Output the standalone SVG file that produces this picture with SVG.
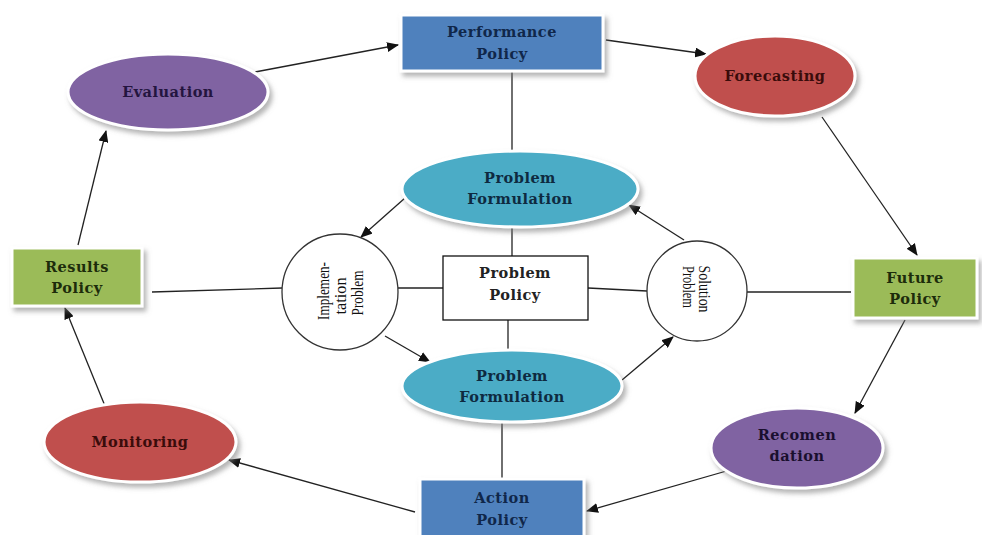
<svg xmlns="http://www.w3.org/2000/svg" width="982" height="535" viewBox="0 0 982 535">
<style>
  .lbl{font-family:"DejaVu Serif","Liberation Serif",serif;font-size:14.5px;font-weight:bold;letter-spacing:0.5px;text-anchor:middle;}
  .rot{font-family:"Liberation Serif",serif;font-size:16px;text-anchor:middle;fill:#111;}
  .conn line{stroke:#222;stroke-width:1.3;fill:none;}
  .arr{marker-end:url(#ah);}
  .shape{stroke:#fff;stroke-width:3;filter:url(#sh);}
</style>
<defs>
  <marker id="ah" markerWidth="12" markerHeight="10" refX="11" refY="5" orient="auto" markerUnits="userSpaceOnUse">
    <path d="M0,0 L12,5 L0,10 Z" fill="#111"/>
  </marker>
  <filter id="sh" x="-20%" y="-20%" width="140%" height="150%">
    <feDropShadow dx="3" dy="4" stdDeviation="2.5" flood-color="#777" flood-opacity="0.55"/>
  </filter>
</defs>
<rect width="982" height="535" fill="#fff"/>

<g id="connectors" class="conn">
  <line class="arr" x1="255" y1="72" x2="398" y2="45"/>
  <line class="arr" x1="606" y1="40" x2="706" y2="54"/>
  <line class="arr" x1="822" y1="117" x2="917" y2="255"/>
  <line class="arr" x1="905" y1="320" x2="855" y2="413"/>
  <line class="arr" x1="730" y1="470" x2="587" y2="511"/>
  <line class="arr" x1="415" y1="512" x2="229" y2="460"/>
  <line class="arr" x1="105" y1="406" x2="65" y2="308"/>
  <line class="arr" x1="78" y1="245" x2="106" y2="131"/>
  <line x1="512" y1="72" x2="512" y2="153"/>
  <line x1="152" y1="292" x2="282" y2="288"/>
  <line x1="398" y1="288" x2="443" y2="288"/>
  <line x1="588" y1="288" x2="647" y2="291"/>
  <line x1="747" y1="292" x2="851" y2="292"/>
  <line x1="512" y1="228" x2="512" y2="256"/>
  <line x1="508" y1="320" x2="508" y2="350"/>
  <line x1="502" y1="421" x2="502" y2="479"/>
  <line class="arr" x1="405" y1="198" x2="361" y2="237"/>
  <line class="arr" x1="385" y1="336" x2="430" y2="362"/>
  <line class="arr" x1="622" y1="380" x2="673" y2="337"/>
  <line class="arr" x1="684" y1="240" x2="629" y2="205"/>
</g>

<g id="performance-policy">
  <rect class="shape" x="401" y="15" width="202" height="56" fill="#4F81BD"/>
  <text class="lbl" x="502" y="37" fill="#10274a">Performance</text>
  <text class="lbl" x="502" y="59" fill="#10274a">Policy</text>
</g>

<g id="forecasting">
  <ellipse class="shape" cx="775" cy="76" rx="80" ry="40" fill="#C0504D"/>
  <text class="lbl" x="775" y="81" fill="#3a0c0b">Forecasting</text>
</g>

<g id="evaluation">
  <ellipse class="shape" cx="168" cy="92" rx="100" ry="38" fill="#8064A2"/>
  <text class="lbl" x="168" y="97" fill="#24153f">Evaluation</text>
</g>

<g id="future-policy">
  <rect class="shape" x="853" y="258" width="124" height="60" fill="#9BBB59"/>
  <text class="lbl" x="915" y="283" fill="#1d2c0b">Future</text>
  <text class="lbl" x="915" y="304" fill="#1d2c0b">Policy</text>
</g>

<g id="results-policy">
  <rect class="shape" x="12" y="248" width="130" height="58" fill="#9BBB59"/>
  <text class="lbl" x="77" y="272" fill="#1d2c0b">Results</text>
  <text class="lbl" x="77" y="293" fill="#1d2c0b">Policy</text>
</g>

<g id="recomendation">
  <ellipse class="shape" cx="797" cy="448" rx="86" ry="40" fill="#8064A2"/>
  <text class="lbl" x="797" y="440" fill="#1a0f2e">Recomen</text>
  <text class="lbl" x="797" y="461" fill="#1a0f2e">dation</text>
</g>

<g id="monitoring">
  <ellipse class="shape" cx="140" cy="442" rx="96" ry="40" fill="#C0504D"/>
  <text class="lbl" x="140" y="447" fill="#3a0c0b">Monitoring</text>
</g>

<g id="action-policy">
  <rect class="shape" x="420" y="479" width="164" height="60" fill="#4F81BD"/>
  <text class="lbl" x="502" y="503" fill="#10274a">Action</text>
  <text class="lbl" x="502" y="525" fill="#10274a">Policy</text>
</g>

<g id="problem-formulation-top">
  <ellipse class="shape" cx="520" cy="189" rx="118" ry="38" fill="#4BACC6"/>
  <text class="lbl" x="520" y="183" fill="#0e2a40">Problem</text>
  <text class="lbl" x="520" y="204" fill="#0e2a40">Formulation</text>
</g>

<g id="problem-formulation-bottom">
  <ellipse class="shape" cx="512" cy="386" rx="110" ry="36" fill="#4BACC6"/>
  <text class="lbl" x="512" y="381" fill="#0e2a40">Problem</text>
  <text class="lbl" x="512" y="402" fill="#0e2a40">Formulation</text>
</g>

<g id="problem-policy">
  <rect x="443" y="256" width="145" height="64" fill="#fff" stroke="#111" stroke-width="1.3"/>
  <text class="lbl" x="515" y="278" fill="#222">Problem</text>
  <text class="lbl" x="515" y="300" fill="#222">Policy</text>
</g>

<g id="implementation-problem">
  <circle cx="340" cy="292" r="58" fill="#fff" stroke="#333" stroke-width="1.3"/>
  <g transform="translate(340,292) rotate(-90)">
    <text class="rot" x="1" y="-11" textLength="58" lengthAdjust="spacingAndGlyphs">Implemen-</text>
    <text class="rot" x="-4" y="6" textLength="37" lengthAdjust="spacingAndGlyphs">tation</text>
    <text class="rot" x="-1" y="23" textLength="45" lengthAdjust="spacingAndGlyphs">Problem</text>
  </g>
</g>

<g id="solution-problem">
  <circle cx="697" cy="291" r="50" fill="#fff" stroke="#333" stroke-width="1.3"/>
  <g transform="translate(697,291) rotate(90)">
    <text class="rot" x="-2" y="-2" textLength="47" lengthAdjust="spacingAndGlyphs">Solution</text>
    <text class="rot" x="-4" y="14" textLength="42" lengthAdjust="spacingAndGlyphs">Problem</text>
  </g>
</g>
</svg>
